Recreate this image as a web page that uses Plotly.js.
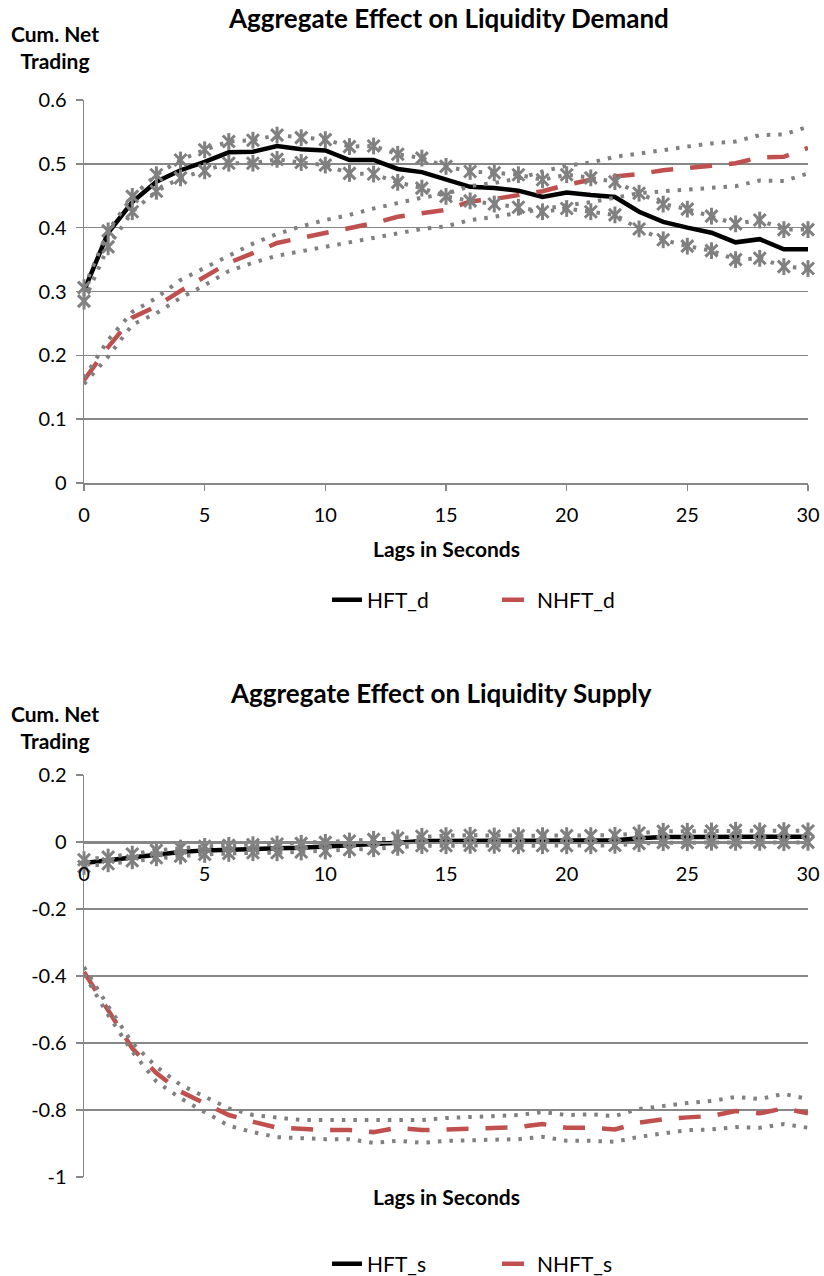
<!DOCTYPE html>
<html>
<head>
<meta charset="utf-8">
<script src="https://cdn.plot.ly/plotly-3.0.1.min.js"></script>
<style>html,body{margin:0;padding:0;background:#fff;}#chart{width:824px;height:1276px;}</style>
</head>
<body>
<div id="chart"></div>
<script>
// ---------- data ----------
const lags = [0,1,2,3,4,5,6,7,8,9,10,11,12,13,14,15,16,17,18,19,20,21,22,23,24,25,26,27,28,29,30];

// Aggregate Effect on Liquidity Demand
const hftD   = [0.301,0.392,0.440,0.472,0.490,0.503,0.518,0.519,0.528,0.523,0.521,0.506,0.506,0.492,0.487,0.475,0.464,0.462,0.458,0.448,0.455,0.451,0.448,0.425,0.409,0.400,0.392,0.377,0.382,0.366,0.366];
const hftDUp = [0.306,0.395,0.449,0.483,0.506,0.522,0.535,0.537,0.545,0.541,0.538,0.527,0.528,0.515,0.509,0.496,0.488,0.486,0.483,0.475,0.483,0.478,0.472,0.454,0.437,0.429,0.418,0.406,0.412,0.397,0.397];
const hftDLo = [0.285,0.370,0.425,0.457,0.478,0.489,0.501,0.501,0.507,0.502,0.498,0.485,0.484,0.471,0.462,0.449,0.442,0.437,0.432,0.425,0.430,0.425,0.420,0.398,0.381,0.371,0.364,0.350,0.352,0.339,0.336];
const nhftD   = [0.161,0.213,0.259,0.277,0.301,0.323,0.345,0.360,0.376,0.384,0.392,0.400,0.407,0.417,0.423,0.428,0.441,0.445,0.451,0.457,0.467,0.475,0.480,0.484,0.490,0.493,0.497,0.501,0.510,0.511,0.525];
const nhftDUp = [0.165,0.224,0.268,0.290,0.318,0.337,0.357,0.375,0.390,0.402,0.412,0.420,0.430,0.438,0.447,0.453,0.465,0.470,0.477,0.488,0.497,0.502,0.511,0.516,0.522,0.527,0.532,0.535,0.545,0.546,0.558];
const nhftDLo = [0.155,0.198,0.248,0.266,0.290,0.310,0.332,0.345,0.356,0.363,0.370,0.377,0.384,0.390,0.398,0.402,0.412,0.417,0.423,0.430,0.435,0.440,0.447,0.454,0.457,0.460,0.463,0.465,0.474,0.473,0.485];

// Aggregate Effect on Liquidity Supply
const hftS   = [-0.063,-0.055,-0.046,-0.036,-0.030,-0.025,-0.022,-0.020,-0.019,-0.017,-0.014,-0.010,-0.006,-0.002,0.003,0.004,0.005,0.004,0.004,0.004,0.004,0.004,0.005,0.011,0.015,0.015,0.016,0.017,0.016,0.016,0.016];
const hftSUp = [-0.053,-0.045,-0.036,-0.025,-0.018,-0.013,-0.010,-0.008,-0.006,-0.004,-0.001,0.003,0.008,0.012,0.017,0.019,0.020,0.018,0.019,0.019,0.019,0.019,0.020,0.027,0.032,0.032,0.033,0.035,0.033,0.034,0.033];
const hftSLo = [-0.073,-0.065,-0.056,-0.047,-0.042,-0.037,-0.034,-0.032,-0.032,-0.030,-0.027,-0.023,-0.020,-0.016,-0.011,-0.011,-0.010,-0.010,-0.011,-0.011,-0.011,-0.011,-0.010,-0.005,-0.002,-0.002,-0.001,-0.001,-0.001,-0.002,-0.001];
const nhftS   = [-0.388,-0.500,-0.616,-0.690,-0.745,-0.780,-0.815,-0.835,-0.853,-0.856,-0.860,-0.860,-0.866,-0.853,-0.860,-0.858,-0.856,-0.851,-0.851,-0.842,-0.853,-0.853,-0.858,-0.838,-0.828,-0.822,-0.818,-0.803,-0.810,-0.795,-0.810];
const nhftSUp = [-0.373,-0.490,-0.600,-0.671,-0.725,-0.760,-0.795,-0.815,-0.824,-0.830,-0.830,-0.830,-0.830,-0.830,-0.830,-0.824,-0.821,-0.818,-0.815,-0.806,-0.815,-0.813,-0.818,-0.797,-0.788,-0.779,-0.773,-0.761,-0.767,-0.752,-0.767];
const nhftSLo = [-0.395,-0.516,-0.626,-0.715,-0.765,-0.805,-0.847,-0.866,-0.881,-0.884,-0.887,-0.887,-0.898,-0.892,-0.898,-0.892,-0.890,-0.887,-0.887,-0.880,-0.892,-0.892,-0.895,-0.880,-0.869,-0.860,-0.858,-0.851,-0.853,-0.842,-0.853];

// ticks
const xTickVals = [0,5,10,15,20,25,30];
const xTickText = ["0","5","10","15","20","25","30"];
const yTopVals = [0,0.1,0.2,0.3,0.4,0.5,0.6];
const yTopText = ["0","0.1","0.2","0.3","0.4","0.5","0.6"];
const yBotVals = [0.2,0,-0.2,-0.4,-0.6,-0.8,-1];
const yBotText = ["0.2","0","-0.2","-0.4","-0.6","-0.8","-1"];

// ---------- styles ----------
const FONT = "Lato, 'Open Sans', sans-serif";
const GRID = "#878787";
const GRAY = "#808080";
const RED = "#C0504D";

function mainLine(x, y, name, color, dash, xa, ya, legend) {
  return {x:x, y:y, name:name, type:"scatter", mode:"lines", xaxis:xa, yaxis:ya, legend:legend,
          line:{color:color, width:4.5, dash:dash}, cliponaxis:false, hoverinfo:"skip"};
}
function band(x, y, xa, ya) {
  return {x:x, y:y, type:"scatter", mode:"lines", xaxis:xa, yaxis:ya, showlegend:false,
          cliponaxis:false, hoverinfo:"skip", line:{color:GRAY, width:4, dash:"3.5px,8px"}};
}
// Excel-style "star" marker: an X plus a vertical bar
function starPart(x, y, symbol, xa, ya) {
  return {x:x, y:y, type:"scatter", mode:"markers", xaxis:xa, yaxis:ya, showlegend:false,
          cliponaxis:false, hoverinfo:"skip",
          marker:{symbol:symbol, size:12, color:GRAY, line:{color:GRAY, width:3}}};
}
function starBand(x, y, xa, ya) {
  return [band(x, y, xa, ya), starPart(x, y, "x-thin-open", xa, ya), starPart(x, y, "line-ns-open", xa, ya)];
}

const traces = [
  mainLine(lags, hftD, "HFT_d", "#000000", "solid", "x", "y", "legend"),
  mainLine(lags, nhftD, "NHFT_d", RED, "22px,17px", "x", "y", "legend"),
  ...starBand(lags, hftDUp, "x", "y"),
  ...starBand(lags, hftDLo, "x", "y"),
  band(lags, nhftDUp, "x", "y"),
  band(lags, nhftDLo, "x", "y"),

  mainLine(lags, hftS, "HFT_s", "#000000", "solid", "x2", "y2", "legend2"),
  mainLine(lags, nhftS, "NHFT_s", RED, "22px,17px", "x2", "y2", "legend2"),
  ...starBand(lags, hftSUp, "x2", "y2"),
  ...starBand(lags, hftSLo, "x2", "y2"),
  band(lags, nhftSUp, "x2", "y2"),
  band(lags, nhftSLo, "x2", "y2")
];

const W = 824, H = 1276;
const px = v => v / W;
const py = v => 1 - v / H;

const tickFont = {family:FONT, size:20, color:"#000"};
const baseX = {range:[0,30], tickvals:xTickVals, ticktext:xTickText, showgrid:false, zeroline:false,
               showline:true, linecolor:GRID, linewidth:1.5, tickfont:tickFont, fixedrange:true};
const baseY = {showgrid:true, gridcolor:GRID, gridwidth:1.5, zeroline:false, showline:true,
               linecolor:GRID, linewidth:1.5, ticks:"outside", ticklen:7, tickcolor:GRID, tickwidth:1.5,
               tickfont:tickFont, fixedrange:true, ticklabelstandoff:5};

const bold = (size) => ({family:FONT, size:size, color:"#000", weight:700});
const legendFont = {family:FONT, size:21, color:"#000"};

const layout = {
  width:W, height:H, margin:{l:0,r:0,t:0,b:0, autoexpand:false}, paper_bgcolor:"#fff", plot_bgcolor:"#fff",
  showlegend:true,
  xaxis: Object.assign({}, baseX, {domain:[px(84), px(808)], anchor:"y", ticks:"outside", ticklen:6,
          tickcolor:GRID, tickwidth:1.5, ticklabelstandoff:7}),
  yaxis: Object.assign({}, baseY, {domain:[py(483), py(100)], range:[0,0.6], anchor:"x",
          tickvals:yTopVals, ticktext:yTopText}),
  xaxis2: Object.assign({}, baseX, {domain:[px(84), px(808)], anchor:"free", position:py(842), ticks:"",
          ticklabelstandoff:13}),
  yaxis2: Object.assign({}, baseY, {domain:[py(1177), py(775)], range:[-1,0.2], anchor:"x2",
          tickvals:yBotVals, ticktext:yBotText}),
  legend: {orientation:"h", x:px(327), y:py(600), xanchor:"left", yanchor:"middle",
           font:legendFont, bgcolor:"rgba(0,0,0,0)", entrywidth:125, entrywidthmode:"pixels"},
  legend2: {orientation:"h", x:px(327), y:py(1264), xanchor:"left", yanchor:"middle",
           font:legendFont, bgcolor:"rgba(0,0,0,0)", entrywidth:125, entrywidthmode:"pixels"},
  annotations: [
    {text:"Aggregate Effect on Liquidity Demand", xref:"paper", yref:"paper", x:px(448), y:py(18),
     xanchor:"center", yanchor:"middle", showarrow:false, font:bold(26)},
    {text:"Cum. Net<br>Trading", xref:"paper", yref:"paper", x:px(55), y:py(46.5),
     xanchor:"center", yanchor:"middle", showarrow:false, align:"center", font:bold(21)},
    {text:"Lags in Seconds", xref:"paper", yref:"paper", x:px(446), y:py(548),
     xanchor:"center", yanchor:"middle", showarrow:false, font:bold(21)},
    {text:"Aggregate Effect on Liquidity Supply", xref:"paper", yref:"paper", x:px(441), y:py(693),
     xanchor:"center", yanchor:"middle", showarrow:false, font:bold(26)},
    {text:"Cum. Net<br>Trading", xref:"paper", yref:"paper", x:px(55), y:py(726.5),
     xanchor:"center", yanchor:"middle", showarrow:false, align:"center", font:bold(21)},
    {text:"Lags in Seconds", xref:"paper", yref:"paper", x:px(446), y:py(1196),
     xanchor:"center", yanchor:"middle", showarrow:false, font:bold(21)}
  ]
};

Plotly.newPlot("chart", traces, layout, {staticPlot:true, displayModeBar:false});
</script>
</body>
</html>
